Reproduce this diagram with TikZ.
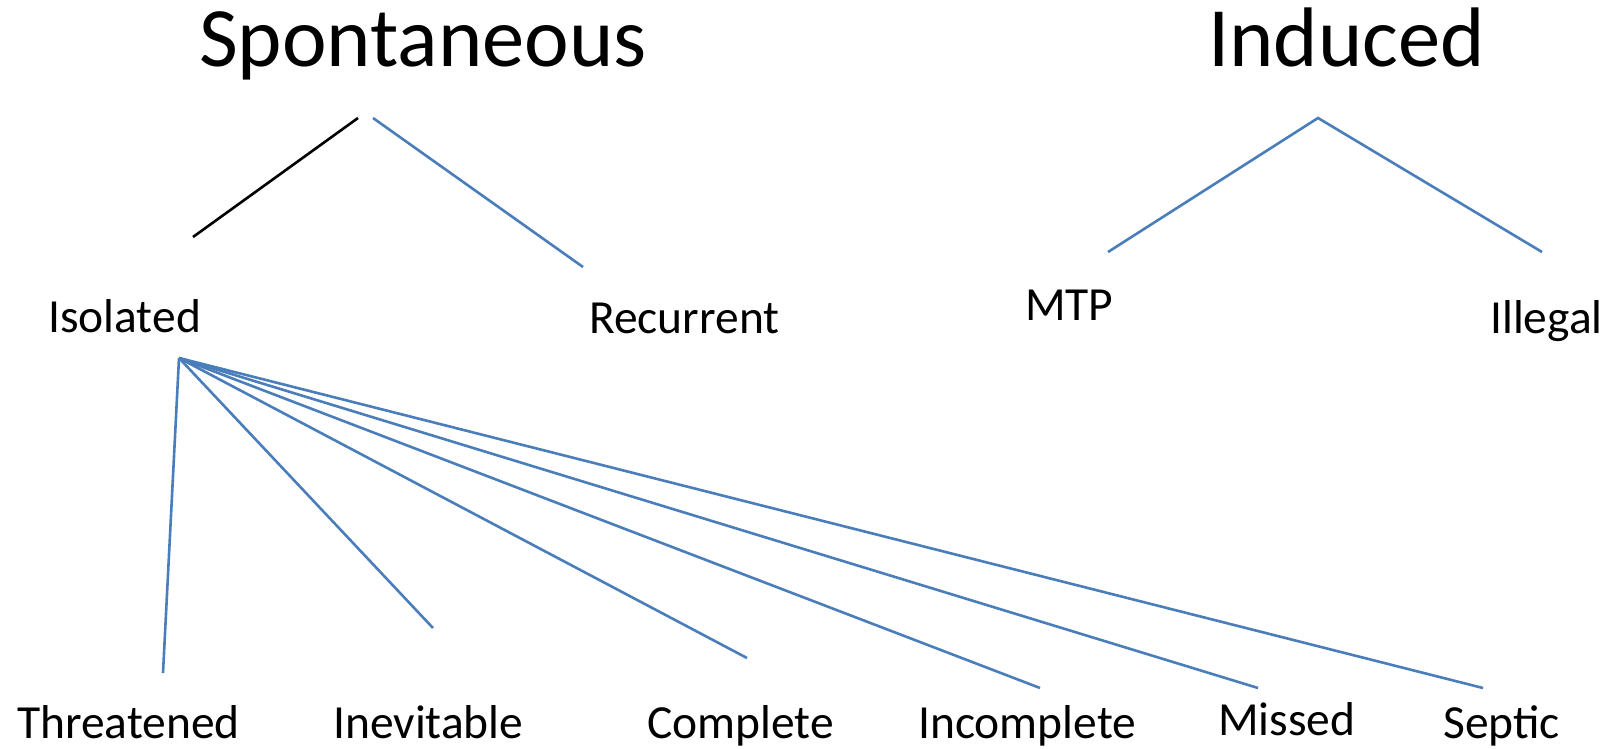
\documentclass[tikz,border=0pt]{standalone}
\usepackage{fontspec}
\setmainfont{Carlito}
\definecolor{lineblue}{RGB}{74,126,187}
\begin{document}
\begin{tikzpicture}[x=1pt,y=-1pt,
  title/.style={anchor=base west,inner sep=0pt,font=\fontsize{84.5}{100}\selectfont},
  lbl/.style={anchor=base west,inner sep=0pt,font=\fontsize{47.5}{57}\selectfont},
  link/.style={draw=lineblue,line width=2.6pt},
  blink/.style={draw=black,line width=2.6pt}]
\useasboundingbox[fill=white] (0,0) rectangle (1606,749);
% titles
\node[title] (spon) at (199,67) {Spontaneous};
\node[title] (ind) at (1208,67) {Induced};
% second level
\node[lbl] (iso) at (48,332) {Isolated};
\node[lbl] (rec) at (589,333) {Recurrent};
\node[lbl] (mtp) at (1025,320) {MTP};
\node[lbl] (ill) at (1490,333) {Illegal};
% third level
\node[lbl] (thr) at (17,738) {Threatened};
\node[lbl] (inev) at (333,738) {Inevitable};
\node[lbl] (comp) at (647,738) {Complete};
\node[lbl] (inc) at (918,738) {Incomplete};
\node[lbl] (mis) at (1218,735) {Missed};
\node[lbl] (sep) at (1443,738) {Septic};
% connector end points
\coordinate (sA) at (358,118);
\coordinate (sB) at (373,118);
\coordinate (isoTop) at (193,237);
\coordinate (recTop) at (583,267);
\coordinate (iApex) at (1318,118);
\coordinate (mtpTop) at (1108,252);
\coordinate (illTop) at (1542,252);
\coordinate (hub) at (179,358);
\coordinate (thrTop) at (163,673);
\coordinate (inevTop) at (433,628);
\coordinate (compTop) at (747,658);
\coordinate (incTop) at (1040,688);
\coordinate (misTop) at (1258,688);
\coordinate (sepTop) at (1483,688);
% connectors
\draw[blink] (isoTop) -- (sA);
\draw[link] (sB) -- (recTop);
\draw[link] (mtpTop) -- (iApex) -- (illTop);
\foreach \t in {thrTop,inevTop,compTop,incTop,misTop,sepTop}
  \draw[link] (hub) -- (\t);
\end{tikzpicture}
\end{document}
